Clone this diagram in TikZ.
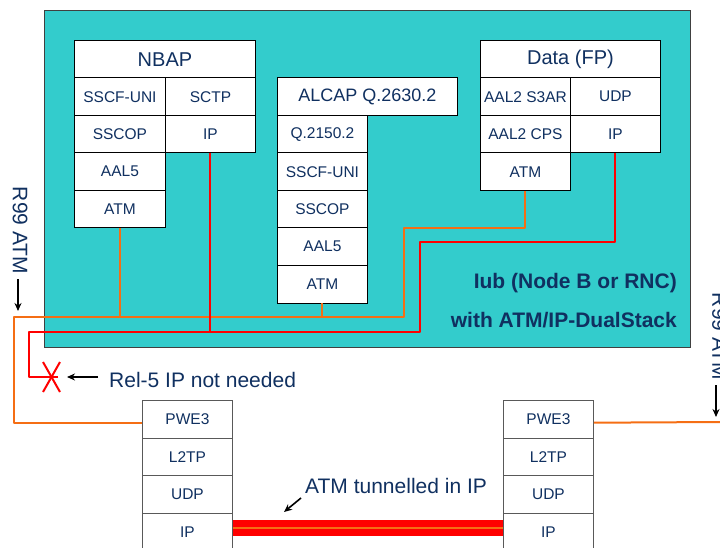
\documentclass[tikz,border=0pt]{standalone}
\usepackage{fontspec}
\setmainfont{Liberation Sans}
\usetikzlibrary{arrows.meta}
\definecolor{navy}{RGB}{16,48,96}
\definecolor{iubteal}{RGB}{51,204,204}
\definecolor{atmorange}{RGB}{245,110,20}
\definecolor{ipred}{RGB}{255,0,0}
\tikzset{
  cell/.style={draw=black, line width=0.9pt, fill=white, inner sep=0pt, anchor=north west,
    minimum width=90pt, minimum height=37.5pt, text=navy, font=\fontsize{15.5}{17}\selectfont},
  bcell/.style={cell, draw=black!65},
  hdr/.style={cell, minimum width=180pt, font=\fontsize{20}{22}\selectfont},
  atmline/.style={draw=atmorange, line width=2pt},
  ipline/.style={draw=ipred, line width=2pt},
  note/.style={text=navy, font=\fontsize{21}{23}\selectfont, inner sep=0pt},
  boldnote/.style={text=navy, font=\bfseries\fontsize{21}{23}\selectfont, inner sep=0pt},
  pointer/.style={draw=black, line width=1.6pt, -{Stealth[length=8pt,width=7pt]}}
}
\begin{document}
\begin{tikzpicture}[x=1pt,y=-1pt]
\useasboundingbox (0,0) rectangle (720,548);
% Iub box
\node[draw=black!75, line width=1.3pt, fill=iubteal, anchor=north west, minimum width=646pt, minimum height=337pt, inner sep=0pt] (iub) at (44,10) {};
\node[boldnote, anchor=base east] (iubt1) at (677,288.5) {Iub (Node B or RNC)};
\node[boldnote, anchor=base east] (iubt2) at (677,327) {with ATM/IP-DualStack};

% NBAP stack
\node[hdr, minimum width=181pt] (nbap) at (74,40) {NBAP};
\node[cell, minimum width=91pt] (nb1) at (74,77.5) {SSCF-UNI};
\node[cell] (nb2) at (165,77.5) {SCTP};
\node[cell, minimum width=91pt] (nb3) at (74,115) {SSCOP};
\node[cell] (nbIP) at (165,115) {IP};
\node[cell, minimum width=91pt] (nb5) at (74,152.5) {AAL5};
\node[cell, minimum width=91pt] (nbATM) at (74,190) {ATM};

% ALCAP stack
\node[hdr, font=\fontsize{18}{20}\selectfont] (alcap) at (277,77.5) {ALCAP Q.2630.2};
\node[cell] (al1) at (277,115) {Q.2150.2};
\node[cell] (al2) at (277,152.5) {SSCF-UNI};
\node[cell] (al3) at (277,190) {SSCOP};
\node[cell] (al4) at (277,227.5) {AAL5};
\node[cell] (alATM) at (277,265) {ATM};

% Data stack
\node[hdr] (data) at (480,40) {Data (FP)};
\node[cell] (d1) at (480,77.5) {AAL2 S3AR};
\node[cell] (d2) at (570,77.5) {UDP};
\node[cell] (d3) at (480,115) {AAL2 CPS};
\node[cell] (dIP) at (570,115) {IP};
\node[cell] (dATM) at (480,152.5) {ATM};

% bottom stacks
\node[bcell] (lPWE) at (142,400) {PWE3};
\node[bcell] (lL2) at (142,437.5) {L2TP};
\node[bcell] (lUDP) at (142,475) {UDP};
\node[bcell] (lIP) at (142,512.5) {IP};
\node[bcell] (rPWE) at (503,400) {PWE3};
\node[bcell] (rL2) at (503,437.5) {L2TP};
\node[bcell] (rUDP) at (503,475) {UDP};
\node[bcell] (rIP) at (503,512.5) {IP};

% connector corners
\coordinate (oL) at (14,317);
\coordinate (oK) at (404,228);
\coordinate (rL) at (29,332);
\coordinate (rK) at (420,242);
\coordinate (xc) at (58,377);
\coordinate (lJoin) at ([yshift=-3.5pt]lPWE.west);
\coordinate (rJoin) at ([yshift=-3.5pt]rPWE.east);
\coordinate (rEnd) at (722,422);

% ATM (orange) lines
\draw[atmline, line join=round] (lJoin) -| (oL) -| (oK) -| (dATM.south);
\draw[atmline] (nbATM.south) -- (nbATM.south |- oL);
\draw[atmline] (alATM.south) -- (alATM.south |- oL);
\draw[atmline] (rJoin) -- (rEnd);

% IP (red) lines
\draw[ipline, line join=round] (xc) -| (rL) -| (rK) -| (dIP.south);
\draw[ipline] (nbIP.south) -- (nbIP.south |- rL);
\coordinate (xa) at (43,362);
\coordinate (xb) at (60,392);
\coordinate (xd) at (60,362);
\coordinate (xe) at (43,392);
\draw[ipline] (xa) -- (xb);
\draw[ipline] (xd) -- (xe);

% Rel-5 note
\coordinate (relA) at (98,377);
\coordinate (relB) at (67,377);
\draw[pointer] (relA) -- (relB);
\node[note, anchor=base west] (rel5) at (109,387) {Rel-5 IP not needed};

% tunnel
\draw[draw=ipred, line width=16pt] ([yshift=4pt]lIP.east) -- ([yshift=4pt]rIP.west);
\draw[draw=atmorange, line width=2pt] ([yshift=4pt]lIP.east) -- ([yshift=4pt]rIP.west);
\node[note, anchor=base west] (tun) at (305,493) {ATM tunnelled in IP};
\coordinate (tA) at (301,498);
\coordinate (tB) at (284,512);
\draw[pointer] (tA) -- (tB);

% R99 ATM labels
\node[note, rotate=-90] (r99l) at (20,230.5) {R99 ATM};
\coordinate (la1) at (18,279);
\coordinate (la2) at (18,311);
\draw[pointer] (la1) -- (la2);
\node[note, rotate=-90] (r99r) at (719.5,336.5) {R99 ATM};
\coordinate (ra1) at (716,385);
\coordinate (ra2) at (716,417);
\draw[pointer] (ra1) -- (ra2);
\end{tikzpicture}
\end{document}
